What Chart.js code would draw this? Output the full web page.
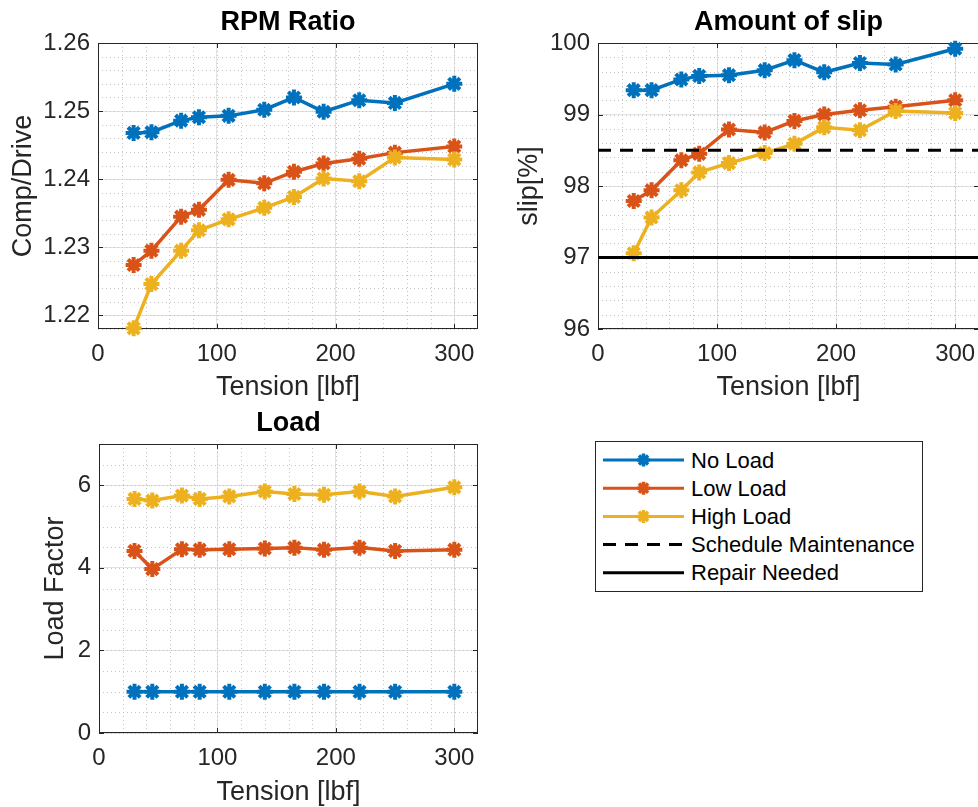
<!DOCTYPE html>
<html>
<head>
<meta charset="utf-8">
<title>Belt tension test</title>
<script src="https://cdn.jsdelivr.net/npm/chart.js@4.4.1/dist/chart.umd.min.js"></script>
<style>
  html, body { margin: 0; padding: 0; background: #fff; overflow: hidden; }
  body { width: 978px; height: 807px; position: relative; }
  canvas, svg { position: absolute; }
</style>
</head>
<body>
<canvas id="rpm" width="500" height="410" style="left:0;top:0"></canvas>
<canvas id="slip" width="500" height="410" style="left:500px;top:0"></canvas>
<canvas id="load" width="500" height="414" style="left:0;top:400px"></canvas>
<svg id="legend" width="330" height="153" style="left:595px;top:441px"></svg>
<script>
// --- data ---
const tension = [30, 45, 70, 85, 110, 140, 165, 190, 220, 250, 300];

const rpmNoLoad   = [1.2468, 1.2469, 1.2486, 1.2491, 1.2493, 1.2502, 1.2520, 1.2499, 1.2516, 1.2512, 1.2540];
const rpmLowLoad  = [1.2274, 1.2295, 1.2345, 1.2355, 1.2399, 1.2394, 1.2411, 1.2423, 1.2430, 1.2439, 1.2448];
const rpmHighLoad = [1.2181, 1.2246, 1.2295, 1.2325, 1.2341, 1.2358, 1.2374, 1.2401, 1.2397, 1.2432, 1.2429];

const slipNoLoad   = [99.34, 99.34, 99.49, 99.54, 99.55, 99.62, 99.76, 99.59, 99.72, 99.70, 99.92];
const slipLowLoad  = [97.79, 97.94, 98.36, 98.45, 98.79, 98.75, 98.91, 99.00, 99.06, 99.11, 99.20];
const slipHighLoad = [97.06, 97.56, 97.94, 98.19, 98.32, 98.46, 98.59, 98.82, 98.78, 99.05, 99.02];
const scheduleMaintenance = 98.5;
const repairNeeded = 97;

const loadNoLoad   = [1, 1, 1, 1, 1, 1, 1, 1, 1, 1, 1];
const loadLowLoad  = [4.41, 3.97, 4.45, 4.44, 4.45, 4.47, 4.49, 4.44, 4.49, 4.41, 4.44];
const loadHighLoad = [5.67, 5.63, 5.75, 5.67, 5.73, 5.85, 5.79, 5.77, 5.85, 5.73, 5.95];

const xTicks = [0, 100, 200, 300];
const rpmTicks = [1.22, 1.23, 1.24, 1.25, 1.26];
const slipTicks = [96, 97, 98, 99, 100];
const loadTicks = [0, 2, 4, 6];

const seriesNames = ['No Load', 'Low Load', 'High Load', 'Schedule Maintenance', 'Repair Needed'];

// --- styling ---
const FONT = '"Liberation Sans", Arial, Helvetica, sans-serif';
const INK = '#262626';
const GRID = '#e2e2e2';
const MINOR = '#c4c4c4';
const colors = ['#0072BD', '#D95319', '#EDB120'];

const xy = vals => tension.map((t, i) => ({ x: t, y: vals[i] }));

function series(vals, idx) {
  return {
    label: seriesNames[idx],
    data: xy(vals),
    borderColor: colors[idx],
    backgroundColor: colors[idx],
    borderWidth: 3.5,
    pointStyle: 'star',
    pointRadius: 8,
    pointBorderWidth: 4,
    pointBorderColor: colors[idx],
    tension: 0,
    clip: false,
    order: 3 - idx
  };
}

function hline(value, idx, dash) {
  return {
    label: seriesNames[idx],
    data: [{ x: 0, y: value }, { x: 320, y: value }],
    borderColor: '#000',
    borderWidth: 3,
    borderDash: dash,
    pointRadius: 0,
    clip: false,
    order: 0
  };
}

// minor dotted grid, box and inward ticks like matlab
const matlabAxes = {
  id: 'matlabAxes',
  beforeDatasetsDraw(chart, args, opts) {
    const { ctx, chartArea: a, scales: { x, y } } = chart;
    ctx.save();
    ctx.strokeStyle = MINOR;
    ctx.lineWidth = 1;
    ctx.setLineDash([1, 3]);
    ctx.beginPath();
    for (let k = Math.ceil(x.min / opts.xMinor + 1e-6); k * opts.xMinor < x.max - 1e-9; k++) {
      const px = Math.round(x.getPixelForValue(k * opts.xMinor)) + 0.5;
      ctx.moveTo(px, a.top); ctx.lineTo(px, a.bottom);
    }
    for (let k = Math.ceil(y.min / opts.yMinor - 1e-6); k * opts.yMinor < y.max - 1e-9; k++) {
      const py = Math.round(y.getPixelForValue(k * opts.yMinor)) + 0.5;
      ctx.moveTo(a.left, py); ctx.lineTo(a.right, py);
    }
    ctx.stroke();

    ctx.setLineDash([]);
    ctx.strokeStyle = INK;
    ctx.beginPath();
    const tl = 5;
    x.ticks.forEach(t => {
      const px = Math.round(x.getPixelForValue(t.value)) + 0.5;
      ctx.moveTo(px, a.bottom); ctx.lineTo(px, a.bottom - tl);
      ctx.moveTo(px, a.top); ctx.lineTo(px, a.top + tl);
    });
    y.ticks.forEach(t => {
      const py = Math.round(y.getPixelForValue(t.value)) + 0.5;
      ctx.moveTo(a.left, py); ctx.lineTo(a.left + tl, py);
      ctx.moveTo(a.right, py); ctx.lineTo(a.right - tl, py);
    });
    ctx.stroke();
    ctx.strokeRect(Math.round(a.left) + 0.5, Math.round(a.top) + 0.5,
                   Math.round(a.right - a.left) - 1, Math.round(a.bottom - a.top) - 1);
    ctx.restore();
  }
};

function panel(id, cfg) {
  return new Chart(document.getElementById(id), {
    type: 'line',
    data: { datasets: cfg.datasets },
    options: {
      responsive: false,
      animation: false,
      events: [],
      layout: { padding: { left: 0, right: cfg.padRight, top: 0, bottom: 0 } },
      plugins: {
        legend: { display: false },
        tooltip: { enabled: false },
        title: {
          display: true, text: cfg.title, fullSize: false, color: '#000',
          font: { family: FONT, size: 27, weight: 'bold' },
          padding: { top: cfg.titleTop, bottom: cfg.titleBottom }
        },
        matlabAxes: { xMinor: 20, yMinor: cfg.yMinor }
      },
      scales: {
        x: {
          type: 'linear', min: 0, max: 320,
          afterBuildTicks: s => { s.ticks = xTicks.map(v => ({ value: v })); },
          afterFit: s => { s.height = cfg.xHeight; },
          grid: { color: GRID, drawTicks: false },
          border: { display: false },
          ticks: { color: INK, font: { family: FONT, size: 24 }, padding: 11, maxRotation: 0 },
          title: {
            display: true, text: 'Tension [lbf]', color: INK,
            font: { family: FONT, size: 27 }, padding: { top: 0, bottom: cfg.xTitleBottom }
          }
        },
        y: {
          type: 'linear', min: cfg.yMin, max: cfg.yMax,
          afterBuildTicks: s => { s.ticks = cfg.yTicks.map(v => ({ value: v })); },
          afterFit: s => { s.width = cfg.yWidth; },
          grid: { color: GRID, drawTicks: false },
          border: { display: false },
          ticks: { color: INK, font: { family: FONT, size: 24 }, padding: 8, callback: cfg.yFormat },
          title: {
            display: true, text: cfg.yTitle, color: INK,
            font: { family: FONT, size: 27 }, padding: { top: cfg.yTitlePad, bottom: 0 }
          }
        }
      }
    },
    plugins: [matlabAxes]
  });
}

panel('rpm', {
  title: 'RPM Ratio', titleTop: 6.8, titleBottom: 3.8,
  datasets: [series(rpmNoLoad, 0), series(rpmLowLoad, 1), series(rpmHighLoad, 2)],
  yMin: 1.218, yMax: 1.26, yTicks: rpmTicks, yMinor: 0.002,
  yFormat: v => v.toFixed(2), yTitle: 'Comp/Drive', yTitlePad: 7.8,
  yWidth: 98, padRight: 22, xHeight: 81, xTitleBottom: 5.8
});

panel('slip', {
  title: 'Amount of slip', titleTop: 6.8, titleBottom: 3.8,
  datasets: [series(slipNoLoad, 0), series(slipLowLoad, 1), series(slipHighLoad, 2),
             hline(scheduleMaintenance, 3, [13, 9]), hline(repairNeeded, 4, [])],
  yMin: 96, yMax: 100, yTicks: slipTicks, yMinor: 0.2,
  yFormat: v => String(v), yTitle: 'slip[%]', yTitlePad: 13.5,
  yWidth: 98, padRight: 21, xHeight: 81, xTitleBottom: 5.8
});

panel('load', {
  title: 'Load', titleTop: 7.8, titleBottom: 3.8,
  datasets: [series(loadNoLoad, 0), series(loadLowLoad, 1), series(loadHighLoad, 2)],
  yMin: 0, yMax: 7, yTicks: loadTicks, yMinor: 0.5,
  yFormat: v => String(v), yTitle: 'Load Factor', yTitlePad: 39.8,
  yWidth: 99, padRight: 22, xHeight: 81, xTitleBottom: 5.1
});

// --- legend, drawn as svg so the labels stay text ---
(function buildLegend() {
  const svg = document.getElementById('legend');
  const NS = 'http://www.w3.org/2000/svg';
  const el = (tag, attrs, text) => {
    const n = document.createElementNS(NS, tag);
    for (const k in attrs) n.setAttribute(k, attrs[k]);
    if (text) n.textContent = text;
    svg.appendChild(n);
    return n;
  };
  el('rect', { x: 0.5, y: 0.5, width: 327, height: 150, fill: '#fff', stroke: INK, 'stroke-width': 1 });
  const lineColors = [colors[0], colors[1], colors[2], '#000', '#000'];
  seriesNames.forEach((name, i) => {
    const cy = 19 + i * 28.2;
    const attrs = { x1: 8, x2: 89, y1: cy, y2: cy, stroke: lineColors[i], 'stroke-width': 3 };
    if (i === 3) attrs['stroke-dasharray'] = '13 9';
    el('line', attrs);
    if (i < 3) {
      const r = 6.5, cx = 48.5;
      let d = '';
      for (let k = 0; k < 4; k++) {
        const ang = k * Math.PI / 4;
        const dx = r * Math.cos(ang), dy = r * Math.sin(ang);
        d += `M${cx - dx},${cy - dy}L${cx + dx},${cy + dy}`;
      }
      el('path', { d, stroke: lineColors[i], 'stroke-width': 3.5, fill: 'none' });
    }
    el('text', { x: 96, y: cy, 'dominant-baseline': 'central', fill: '#000',
                 'font-family': FONT, 'font-size': 22 }, name);
  });
})();
</script>
</body>
</html>
